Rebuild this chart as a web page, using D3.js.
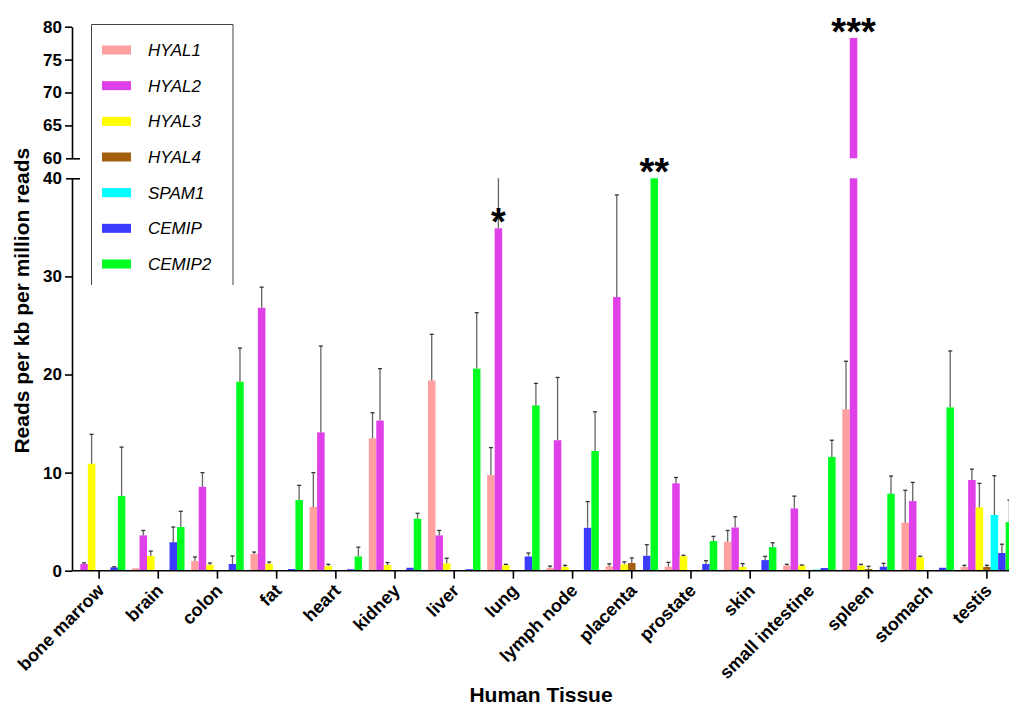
<!DOCTYPE html>
<html>
<head>
<meta charset="utf-8">
<script src="https://cdn.jsdelivr.net/npm/d3@7"></script>
<style>
  body { margin: 0; background: #fff; }
  svg { font-family: "Liberation Sans", Arial, sans-serif; }
  .axis path, .axis line { stroke: #000; stroke-width: 1.6; }
  .axis text { font-size: 17px; font-weight: bold; fill: #000; }
  .xaxis text { font-size: 18px; }
</style>
</head>
<body>
<svg id="chart" width="1009" height="706"></svg>
<script>
// Tissues on the x axis
const tissues = ["bone marrow", "brain", "colon", "fat", "heart", "kidney", "liver", "lung",
  "lymph node", "placenta", "prostate", "skin", "small intestine", "spleen", "stomach", "testis"];

const genes = ["HYAL1", "HYAL2", "HYAL3", "HYAL4", "SPAM1", "CEMIP", "CEMIP2"];
const colors = ["#ffa0a0", "#e040e8", "#ffff00", "#a4600f", "#00ffff", "#3c3cff", "#00ff20"];

// mean values (RPKM), one per tissue
const hyal1 = [0, 0.25, 0.98, 1.7, 6.5, 13.5, 19.4, 9.75, 0.3, 0.45, 0.4, 2.96, 0.52, 16.45, 4.9, 0.38];
const hyal2 = [0.68, 3.6, 8.55, 26.8, 14.1, 15.3, 3.6, 34.9, 13.3, 27.9, 8.9, 4.4, 6.35, 78.3, 7.1, 9.25];
const hyal3 = [10.9, 1.5, 0.6, 0.7, 0.48, 0.58, 0.75, 0.55, 0.38, 0.65, 1.47, 0.37, 0.52, 0.52, 1.37, 6.45];
const hyal4 = [0, 0, 0, 0, 0, 0, 0, 0, 0, 0.78, 0, 0, 0, 0.17, 0, 0.38];
const spam1 = [0, 0, 0, 0, 0, 0, 0, 0, 0, 0, 0, 0, 0.12, 0, 0, 5.68];
const cemip = [0.34, 2.9, 0.68, 0.17, 0.15, 0.3, 0.15, 1.45, 4.37, 1.52, 0.68, 1.08, 0.27, 0.4, 0.3, 1.8];
const cemip2 = [7.63, 4.45, 19.26, 7.2, 1.45, 5.3, 20.6, 16.85, 12.2, 45, 3.03, 2.4, 11.6, 7.85, 16.65, 4.95];

// error (SD) above each bar
const hyal1Err = [0, 0, 0.42, 0.2, 3.5, 2.6, 4.7, 2.8, 0.17, 0.25, 0.45, 1.14, 0.13, 4.9, 3.3, 0.17];
const hyal2Err = [0.12, 0.5, 1.45, 2.1, 8.8, 5.3, 0.5, 5.1, 6.4, 10.4, 0.6, 1.1, 1.25, 0, 1.9, 1.1];
const hyal3Err = [3.0, 0.5, 0.18, 0.18, 0.17, 0.25, 0.52, 0.1, 0.17, 0.25, 0.1, 0.35, 0.06, 0.13, 0.1, 2.45];
const hyal4Err = [0, 0, 0, 0, 0, 0, 0, 0, 0, 0.52, 0, 0, 0, 0.28, 0, 0.17];
const spam1Err = [0, 0, 0, 0, 0, 0, 0, 0, 0, 0, 0, 0, 0, 0, 0, 4.0];
const cemipErr = [0.06, 1.55, 0.82, 0, 0, 0, 0, 0.35, 2.68, 1.13, 0.34, 0.38, 0, 0.35, 0, 0.9];
const cemip2Err = [4.97, 1.6, 3.44, 1.5, 0.95, 0.55, 5.7, 2.25, 4.0, 0, 0.47, 0.45, 1.7, 1.8, 5.75, 2.25];

// significance marks
const sigTissues = ["lung", "placenta", "spleen"];
const sigGenes = ["HYAL2", "CEMIP2", "HYAL2"];
const sigLabels = ["*", "**", "***"];

// broken y axis: lower 0-40, upper 60-80
const lowTicks = [0, 10, 20, 30, 40];
const highTicks = [60, 65, 70, 75, 80];

const means = [hyal1, hyal2, hyal3, hyal4, spam1, cemip, cemip2];
const errs = [hyal1Err, hyal2Err, hyal3Err, hyal4Err, spam1Err, cemipErr, cemip2Err];

const rows = [];
genes.forEach((g, gi) => {
  tissues.forEach((t, ti) => {
    rows.push({ gene: g, tissue: t, value: means[gi][ti], err: errs[gi][ti], color: colors[gi] });
  });
});

const svg = d3.select("#chart");
const axisX = 72;

const x = d3.scaleBand().domain(tissues).range([69.5, 1016.5])
  .paddingInner(0.113).paddingOuter(0.0565);
const xg = d3.scaleBand().domain(genes).range([0, x.bandwidth()]);

const yLo = d3.scaleLinear().domain([0, 40]).range([570.7, 178.3]).clamp(true);
const yHi = d3.scaleLinear().domain([60, 80]).range([158.3, 26.7]).clamp(true);

const barX = (d) => x(d.tissue) + xg(d.gene);

// Bars - lower segment
const bars = svg.append("g");
bars.selectAll("rect.lo").data(rows.filter((d) => d.value > 0)).enter().append("rect")
  .attr("class", "lo")
  .attr("x", barX)
  .attr("width", xg.bandwidth())
  .attr("y", (d) => yLo(d.value))
  .attr("height", (d) => yLo(0) - yLo(d.value))
  .attr("fill", (d) => d.color);

// Bars - upper segment (above the break)
bars.selectAll("rect.hi").data(rows.filter((d) => d.value > 60)).enter().append("rect")
  .attr("class", "hi")
  .attr("x", barX)
  .attr("width", xg.bandwidth())
  .attr("y", (d) => yHi(d.value))
  .attr("height", (d) => yHi(60) - yHi(d.value))
  .attr("fill", (d) => d.color);

// Error bars (only in the lower segment)
const errRows = rows.filter((d) => d.err > 0 && d.value < 40);
const eg = svg.append("g").attr("stroke", "#666").attr("stroke-width", 1.3);
eg.selectAll("line.v").data(errRows).enter().append("line")
  .attr("x1", (d) => barX(d) + xg.bandwidth() / 2)
  .attr("x2", (d) => barX(d) + xg.bandwidth() / 2)
  .attr("y1", (d) => yLo(d.value))
  .attr("y2", (d) => yLo(d.value + d.err));
eg.selectAll("line.cap").data(errRows.filter((d) => d.value + d.err < 40)).enter().append("line")
  .attr("stroke", "#333")
  .attr("x1", (d) => barX(d) + xg.bandwidth() / 2 - 2)
  .attr("x2", (d) => barX(d) + xg.bandwidth() / 2 + 2)
  .attr("y1", (d) => yLo(d.value + d.err))
  .attr("y2", (d) => yLo(d.value + d.err));

// Significance asterisks
sigLabels.forEach((s, i) => {
  const d = rows.find((r) => r.tissue === sigTissues[i] && r.gene === sigGenes[i]);
  const top = d.value > 60 ? yHi(d.value) : yLo(d.value);
  svg.append("text")
    .attr("x", barX(d) + xg.bandwidth() / 2)
    .attr("y", top + 7)
    .attr("text-anchor", "middle")
    .style("font-size", "38px").style("font-weight", "bold")
    .text(s);
});

// Axes
const xAxis = svg.append("g").attr("class", "axis xaxis")
  .attr("transform", `translate(0,${yLo(0)})`)
  .call(d3.axisBottom(x).tickSize(8).tickSizeOuter(0));
xAxis.select(".domain").attr("d", `M${axisX},0H1009`);
xAxis.selectAll("text")
  .attr("y", 0).attr("dy", 0)
  .attr("text-anchor", "end")
  .attr("transform", "translate(6,21) rotate(-45)");

const yAxisLo = svg.append("g").attr("class", "axis")
  .attr("transform", `translate(${axisX},0)`)
  .call(d3.axisLeft(yLo).tickValues(lowTicks).tickSize(7).tickPadding(3).tickSizeOuter(0));
const yAxisHi = svg.append("g").attr("class", "axis")
  .attr("transform", `translate(${axisX},0)`)
  .call(d3.axisLeft(yHi).tickValues(highTicks).tickSize(7).tickPadding(3).tickSizeOuter(0));

// longer ticks at the break
yAxisLo.selectAll(".tick").filter((d) => d === 40).select("line").attr("x1", 8).attr("x2", -6);
yAxisHi.selectAll(".tick").filter((d) => d === 60).select("line").attr("x1", 8).attr("x2", -6);

// Axis titles
svg.append("text")
  .attr("transform", `translate(29,${(yHi(80) + yLo(0)) / 2 + 2}) rotate(-90)`)
  .attr("text-anchor", "middle")
  .style("font-size", "21px").style("font-weight", "bold")
  .text("Reads per kb per million reads");

svg.append("text")
  .attr("x", 541).attr("y", 702)
  .attr("text-anchor", "middle")
  .style("font-size", "21px").style("font-weight", "bold")
  .text("Human Tissue");

// Legend
const legend = svg.append("g");
legend.append("path")
  .attr("d", "M91.5,285V24.5H233V285")
  .attr("fill", "none").attr("stroke", "#444").attr("stroke-width", 1);
const ly = d3.scalePoint().domain(genes).range([50, 264]);
const items = legend.selectAll("g.item").data(genes).enter().append("g")
  .attr("transform", (d) => `translate(0,${ly(d)})`);
items.append("rect")
  .attr("x", 102).attr("y", -4.5).attr("width", 29).attr("height", 9)
  .attr("fill", (d, i) => colors[i]);
items.append("text")
  .attr("x", 148).attr("y", 6)
  .style("font-size", "17px").style("font-style", "italic")
  .text((d) => d);
</script>
</body>
</html>
